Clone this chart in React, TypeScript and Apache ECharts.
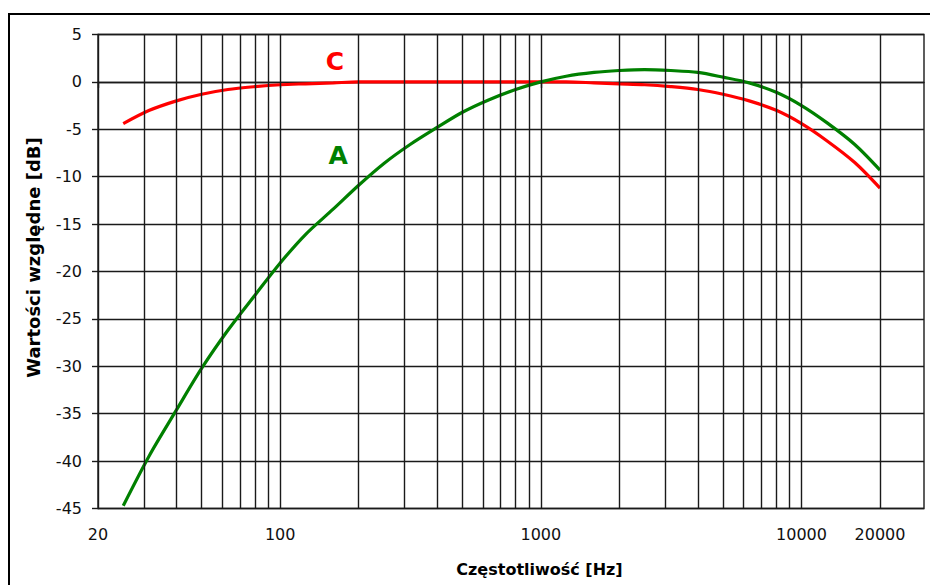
import React, { useEffect, useRef } from "react";
import * as echarts from "echarts";

const frequencies = [25, 31.5, 40, 50, 63, 80, 100, 125, 160, 200, 250, 315, 400, 500, 630, 800, 1000, 1250, 1600, 2000, 2500, 3150, 4000, 5000, 6300, 8000, 10000, 12500, 16000, 20000];
const weightA = [-44.7, -39.4, -34.6, -30.2, -26.2, -22.5, -19.1, -16.1, -13.4, -10.9, -8.6, -6.6, -4.8, -3.2, -1.9, -0.8, 0, 0.6, 1.0, 1.2, 1.3, 1.2, 1.0, 0.5, -0.1, -1.1, -2.5, -4.3, -6.6, -9.3];
const weightC = [-4.4, -3.0, -2.0, -1.3, -0.8, -0.5, -0.3, -0.2, -0.1, 0, 0, 0, 0, 0, 0, 0, 0, 0, -0.1, -0.2, -0.3, -0.5, -0.8, -1.3, -2.0, -3.0, -4.4, -6.2, -8.5, -11.2];
const xLabelValues = [20, 100, 1000, 10000, 20000];
const xTickValues = [20, 100, 1000, 10000];
const xGridValues = [30, 40, 50, 60, 70, 80, 90, 100, 200, 300, 400, 500, 600, 700, 800, 900, 1000, 2000, 3000, 4000, 5000, 6000, 7000, 8000, 9000, 10000, 20000];
const labelC = { text: "C", freq: 162, db: 2.2 };
const labelA = { text: "A", freq: 167, db: -7.8 };

const FONT = "DejaVu Sans";
const GRID_COLOR = "#1a1a1a";
const GRID_WIDTH = 1.4;

export default function App() {
  const ref = useRef<HTMLDivElement>(null);
  useEffect(() => {
    if (!ref.current) return;
    const chart = echarts.init(ref.current, undefined, { renderer: "svg" });
    const pair = (vals: number[]) => frequencies.map((f, i) => [f, vals[i]]);
    chart.setOption({
      animation: false,
      backgroundColor: "#fff",
      grid: {
        left: 98,
        top: 34.5,
        width: 826,
        height: 474,
        show: true,
        borderColor: GRID_COLOR,
        borderWidth: GRID_WIDTH,
        backgroundColor: "transparent",
      },
      xAxis: {
        type: "log",
        logBase: 10,
        min: 20,
        max: 29500,
        name: "Częstotliwość [Hz]",
        nameLocation: "middle",
        nameGap: 53,
        nameTextStyle: {
          fontFamily: FONT,
          fontWeight: "bold",
          fontSize: 16,
          color: "#000",
          padding: [0, 0, 0, 57],
        },
        axisLine: { show: true, lineStyle: { color: GRID_COLOR, width: GRID_WIDTH } },
        axisTick: { show: true, length: 6, customValues: xTickValues, lineStyle: { color: GRID_COLOR, width: GRID_WIDTH } },
        axisLabel: {
          customValues: xLabelValues,
          margin: 18,
          fontFamily: FONT,
          fontSize: 16,
          color: "#111",
          formatter: (v: number) => String(Math.round(v)),
        },
        splitLine: { show: false },
        minorTick: { show: false },
        minorSplitLine: { show: false },
      },
      yAxis: {
        type: "value",
        min: -45,
        max: 5,
        interval: 5,
        name: "Wartości względne [dB]",
        nameLocation: "middle",
        nameGap: 56,
        nameTextStyle: {
          fontFamily: FONT,
          fontWeight: "bold",
          fontSize: 18,
          color: "#000",
          padding: [0, 0, 0, 28],
        },
        axisLine: { show: true, lineStyle: { color: GRID_COLOR, width: GRID_WIDTH } },
        axisTick: { show: true, length: 6, lineStyle: { color: GRID_COLOR, width: GRID_WIDTH } },
        axisLabel: { margin: 16, fontFamily: FONT, fontSize: 16, color: "#111" },
        splitLine: { show: true, lineStyle: { color: GRID_COLOR, width: GRID_WIDTH } },
      },
      series: [
        {
          name: "grid",
          type: "line",
          data: [],
          z: 1,
          silent: true,
          markLine: {
            silent: true,
            symbol: ["none", "none"],
            label: { show: false },
            lineStyle: { color: GRID_COLOR, width: GRID_WIDTH, type: "solid" },
            emphasis: { disabled: true },
            data: xGridValues.map((v) => ({ xAxis: v })),
          },
        },
        {
          name: "C",
          type: "line",
          data: pair(weightC),
          z: 3,
          smooth: 0.3,
          showSymbol: false,
          symbol: "none",
          lineStyle: { color: "#ff0000", width: 3.2 },
          itemStyle: { color: "#ff0000" },
          markPoint: {
            symbol: "circle",
            symbolSize: 1,
            itemStyle: { color: "transparent" },
            label: {
              show: true,
              position: "inside",
              formatter: labelC.text,
              color: "#ff0000",
              fontFamily: FONT,
              fontWeight: "bold",
              fontSize: 25,
            },
            data: [{ coord: [labelC.freq, labelC.db] }],
          },
        },
        {
          name: "A",
          type: "line",
          data: pair(weightA),
          z: 4,
          smooth: 0.3,
          showSymbol: false,
          symbol: "none",
          lineStyle: { color: "#008000", width: 3.2 },
          itemStyle: { color: "#008000" },
          markPoint: {
            symbol: "circle",
            symbolSize: 1,
            itemStyle: { color: "transparent" },
            label: {
              show: true,
              position: "inside",
              formatter: labelA.text,
              color: "#008000",
              fontFamily: FONT,
              fontWeight: "bold",
              fontSize: 25,
            },
            data: [{ coord: [labelA.freq, labelA.db] }],
          },
        },
      ],
      graphic: [
        {
          type: "polyline",
          silent: true,
          shape: { points: [[9, 585], [9, 14], [930, 14]] },
          style: { stroke: "#000", lineWidth: 2, fill: "none" },
        },
      ],
    });
    return () => chart.dispose();
  }, []);
  return (
    <div
      ref={ref}
      style={{ position: "fixed", left: 0, top: 0, width: 930, height: 585, background: "#fff" }}
    />
  );
}
